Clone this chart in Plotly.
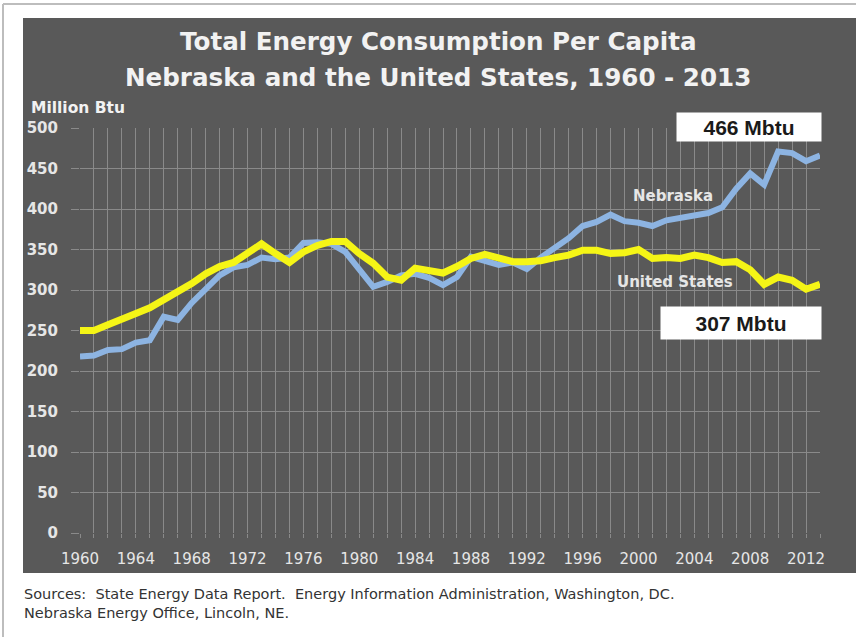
import plotly.graph_objects as go

YEARS = list(range(1960, 2014))
NEBRASKA = [218, 219, 226, 227, 235, 238, 267, 263, 284, 300,
            318, 328, 331, 340, 338, 340, 358, 359, 357, 347,
            324, 304, 310, 318, 320, 315, 306, 316, 341, 336,
            331, 334, 326, 340, 351, 364, 379, 384, 393, 385,
            383, 379, 386, 389, 393, 395, 402, 425, 444, 430,
            471, 469, 459, 466]
UNITED_STATES = [250, 250, 257, 263, 271, 278, 288, 296, 308, 320,
                 329, 334, 346, 357, 345, 334, 347, 355, 360, 360,
                 345, 333, 316, 312, 327, 323, 321, 329, 339, 344,
                 339, 335, 335, 336, 340, 343, 349, 349, 345, 346,
                 350, 339, 340, 339, 343, 340, 334, 335, 325, 307,
                 316, 312, 301, 307]
X_TICKS = list(range(1960, 2013, 4))
X_TICK_LABELS = [str(y) for y in X_TICKS]
Y_TICKS = list(range(0, 501, 50))
Y_TICK_LABELS = [str(v) for v in Y_TICKS]

TITLE_1 = "Total Energy Consumption Per Capita"
TITLE_2 = "Nebraska and the United States, 1960 - 2013"
Y_TITLE = "Million Btu"
SOURCE_1 = "Sources:  State Energy Data Report.  Energy Information Administration, Washington, DC."
SOURCE_2 = "Nebraska Energy Office, Lincoln, NE."

FONT = "DejaVu Sans"
GRID = "#8a8a8a"
LIGHT = "#e6e6e6"

fig = go.Figure()
fig.add_trace(go.Scatter(x=YEARS, y=NEBRASKA, mode="lines", name="Nebraska",
                         line=dict(color="#8db4e2", width=6)))
fig.add_trace(go.Scatter(x=YEARS, y=UNITED_STATES, mode="lines", name="United States",
                         line=dict(color="#f5f516", width=7)))

W, H = 856, 639
L, R, T, B = 80, 36, 128, 106
pw, ph = W - L - R, H - T - B


def px(x):
    return (x - L) / pw


def py(y):
    return (H - B - y) / ph


shapes = [
    # dark panel
    dict(type="rect", xref="paper", yref="paper", x0=px(23), x1=px(860),
         y0=py(573), y1=py(18), fillcolor="#595959", line=dict(width=0), layer="below"),
    # outer frame lines
    dict(type="line", xref="paper", yref="paper", x0=px(3), x1=px(860),
         y0=py(4), y1=py(4), line=dict(color="#bdbdbd", width=2)),
    dict(type="line", xref="paper", yref="paper", x0=px(3), x1=px(3),
         y0=py(4), y1=py(637), line=dict(color="#bdbdbd", width=2)),
]


def note(text, x, y, size, color, weight=400, family=FONT, xanchor="center", **kw):
    return dict(text=text, xref="paper", yref="paper", x=px(x), y=py(y),
                xanchor=xanchor, yanchor="middle", showarrow=False,
                font=dict(family=family, size=size, color=color, weight=weight), **kw)


annotations = [
    note(TITLE_1, 438, 41, 24.6, "#f2f2f2", 700),
    note(TITLE_2, 438, 78, 24.6, "#f2f2f2", 700),
    note(Y_TITLE, 29, 108, 15.5, "#f2f2f2", 700, xanchor="left"),
    note("Nebraska", 673, 196, 15, LIGHT, 700),
    note("United States", 675, 282, 15, LIGHT, 700),
    note(f"{NEBRASKA[-1]} Mbtu", 749, 127, 21, "#1a1a1a", 700, family="Liberation Sans",
         width=144, height=28, bgcolor="white", borderpad=0),
    note(f"{UNITED_STATES[-1]} Mbtu", 741, 323, 21, "#1a1a1a", 700, family="Liberation Sans",
         width=160, height=32, bgcolor="white", borderpad=0),
    note(SOURCE_1, 22, 594, 14.5, "#333333", xanchor="left"),
    note(SOURCE_2, 22, 613, 14.5, "#333333", xanchor="left"),
]

fig.update_layout(
    width=W, height=H,
    margin=dict(l=L, r=R, t=T, b=B),
    paper_bgcolor="white",
    plot_bgcolor="#404040",
    showlegend=False,
    shapes=shapes,
    annotations=annotations,
    xaxis=dict(range=[1960, 2013], tickvals=X_TICKS, ticktext=X_TICK_LABELS,
               showgrid=True, gridcolor=GRID, gridwidth=1, zeroline=False,
               ticks="outside", ticklen=4, tickcolor=GRID, ticklabelstandoff=8,
               tickfont=dict(family=FONT, size=15, color=LIGHT),
               minor=dict(dtick=1, tick0=1960, showgrid=True, gridcolor=GRID,
                          gridwidth=1, ticks="outside", ticklen=4, tickcolor=GRID),
               showline=False),
    yaxis=dict(range=[0, 500], tickvals=Y_TICKS, ticktext=Y_TICK_LABELS,
               showgrid=True, gridcolor=GRID, gridwidth=1, zeroline=False,
               ticks="outside", ticklen=8, tickcolor=GRID, ticklabelstandoff=10,
               tickfont=dict(family=FONT, size=15, color=LIGHT, weight=700),
               showline=False),
)

fig.write_html("out.html", config={"displayModeBar": False},
               post_script="document.body.style.margin='0';document.body.style.overflow='hidden';")
